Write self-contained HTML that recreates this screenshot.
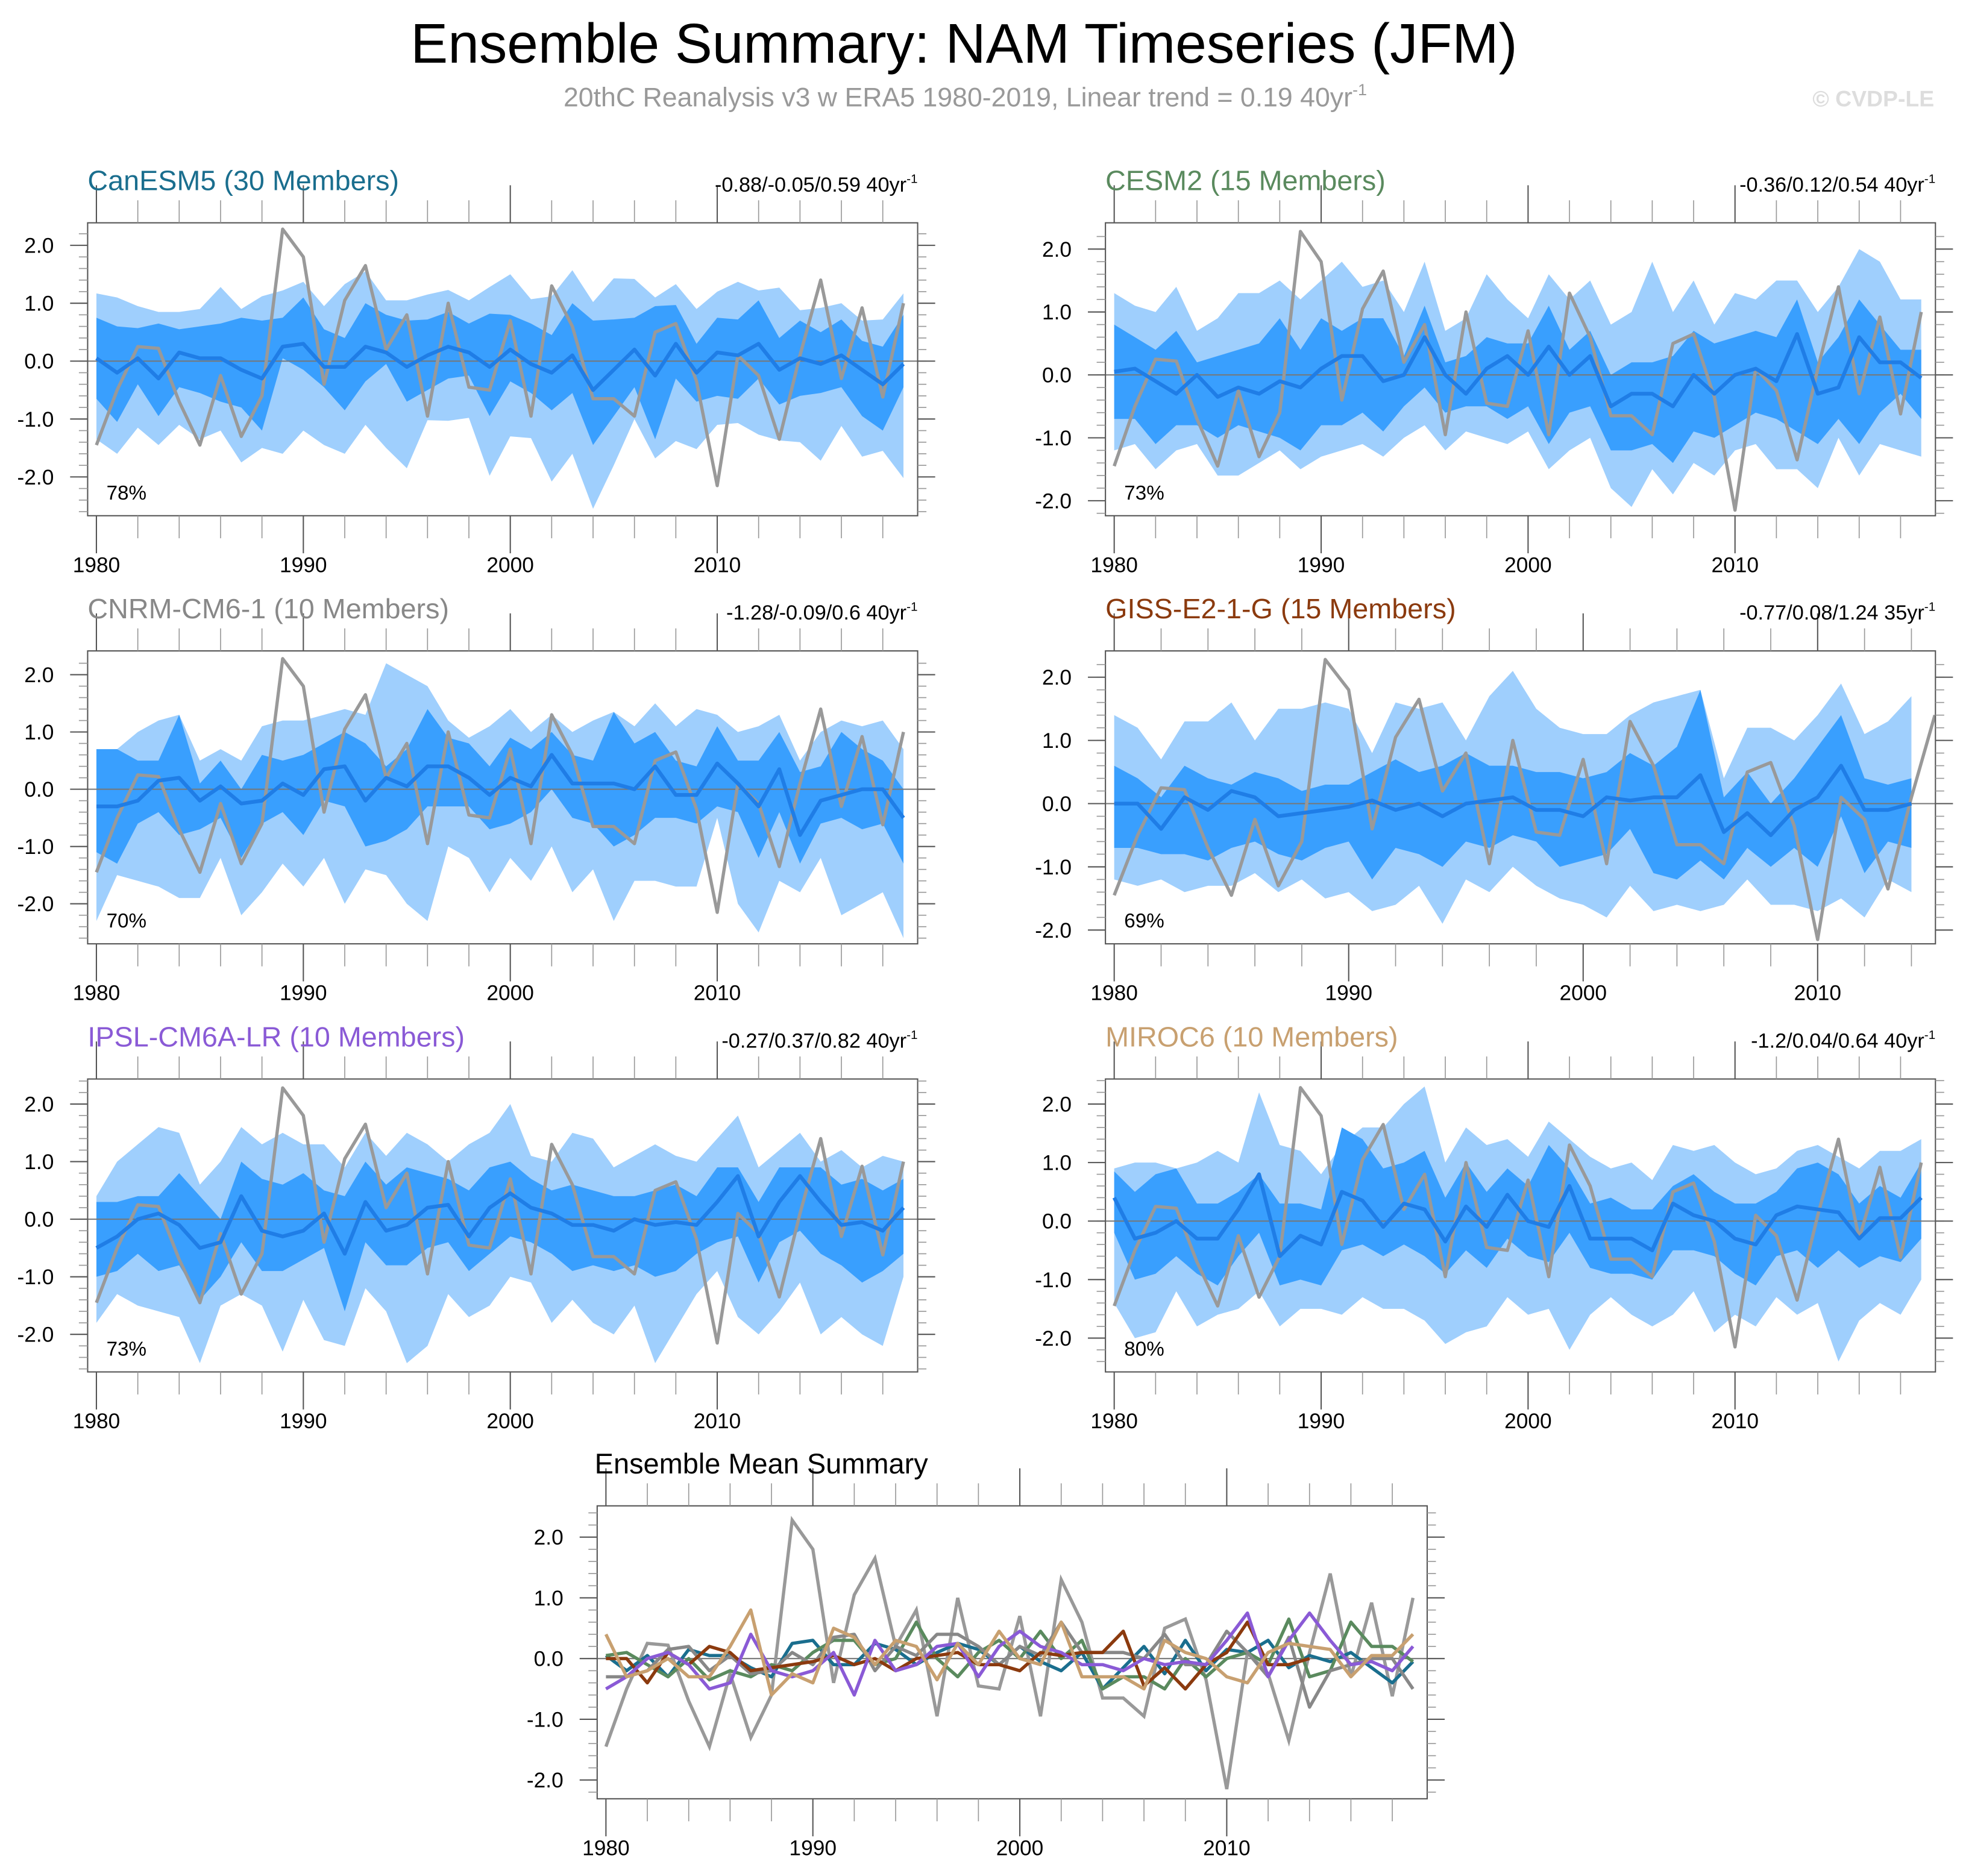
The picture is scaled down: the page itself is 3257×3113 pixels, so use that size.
<!DOCTYPE html>
<html><head><meta charset="utf-8"><style>
html,body{margin:0;padding:0;background:#fff}
svg{display:block}
text{font-family:"Liberation Sans",sans-serif}
</style></head><body>
<svg id="chart" xmlns="http://www.w3.org/2000/svg" width="3257" height="3113" viewBox="0 0 1568 1498.7">
<rect width="1568" height="1498.7" fill="#fff"/>
<text x="770" y="50" font-size="44.7" text-anchor="middle">Ensemble Summary: NAM Timeseries (JFM)</text>
<text x="771" y="85" font-size="21.5" fill="#999" text-anchor="middle">20thC Reanalysis v3 w ERA5 1980-2019, Linear trend = 0.19 40yr<tspan dy="-9" font-size="13">-1</tspan></text>
<text x="1545" y="85" font-size="18" font-weight="bold" fill="#ddd" text-anchor="end">© CVDP-LE</text>
<g id="plots"></g>
</svg>
<script>
const years = Array.from({length:40},(_,i)=>1980+i);
const obs = [-1.45,-0.5,0.25,0.22,-0.7,-1.45,-0.25,-1.3,-0.6,2.28,1.8,-0.4,1.05,1.65,0.2,0.8,-0.95,1.0,-0.45,-0.5,0.7,-0.95,1.3,0.6,-0.65,-0.65,-0.95,0.5,0.65,-0.35,-2.15,0.1,-0.25,-1.35,0.1,1.4,-0.3,0.92,-0.62,1.0];

const canMean=[0.05,-0.2,0.05,-0.3,0.15,0.05,0.05,-0.15,-0.3,0.25,0.3,-0.1,-0.1,0.25,0.15,-0.1,0.1,0.25,0.15,-0.1,0.2,-0.05,-0.2,0.1,-0.5,-0.15,0.2,-0.25,0.3,-0.2,0.15,0.1,0.3,-0.15,0.05,-0.05,0.1,-0.15,-0.4,-0.05];
const canHi=[0.75,0.6,0.57,0.65,0.55,0.6,0.65,0.75,0.7,0.75,1.1,0.55,0.4,1.0,0.8,0.7,0.72,0.85,0.65,0.82,0.8,0.65,0.45,1.0,0.7,0.72,0.75,0.95,0.97,0.3,0.75,0.72,1.05,0.4,0.7,0.5,0.72,0.35,0.25,0.8];
const canLo=[-0.65,-1.05,-0.4,-0.95,-0.45,-0.55,-0.7,-0.8,-1.2,0.05,-0.15,-0.45,-0.85,-0.35,-0.05,-0.7,-0.5,-0.3,-0.25,-0.95,-0.35,-0.55,-0.85,-0.55,-1.45,-0.95,-0.45,-1.35,-0.3,-0.7,-0.6,-0.65,-0.3,-0.75,-0.6,-0.55,-0.45,-0.95,-1.2,-0.45];
const canMax=[1.17,1.1,0.95,0.85,0.85,0.9,1.28,0.9,1.12,1.22,1.37,0.95,1.33,1.55,1.05,1.05,1.15,1.23,1.05,1.28,1.5,1.07,1.12,1.57,1.02,1.43,1.42,1.1,1.33,0.9,1.2,1.37,1.22,1.27,0.88,0.92,1.0,0.7,0.72,1.17];
const canMin=[-1.35,-1.6,-1.15,-1.45,-1.1,-1.35,-1.2,-1.75,-1.5,-1.6,-1.2,-1.45,-1.6,-1.1,-1.5,-1.85,-1.02,-1.03,-0.98,-1.98,-1.3,-1.33,-2.08,-1.6,-2.55,-1.8,-1.0,-1.68,-1.38,-1.52,-1.1,-1.07,-1.27,-1.37,-1.4,-1.72,-1.12,-1.65,-1.55,-2.02];

const cesMean=[0.05,0.1,-0.1,-0.3,0.0,-0.35,-0.2,-0.3,-0.1,-0.2,0.1,0.3,0.3,-0.1,0.0,0.6,0.0,-0.3,0.1,0.3,0.0,0.45,0.0,0.3,-0.5,-0.3,-0.3,-0.5,0.0,-0.3,0.0,0.1,-0.1,0.65,-0.3,-0.2,0.6,0.2,0.2,-0.05];
const cesHi=[0.8,0.6,0.4,0.7,0.2,0.3,0.4,0.5,0.9,0.4,0.9,0.7,0.9,0.9,0.3,1.1,0.2,0.3,0.6,0.5,0.5,1.1,0.4,0.7,0.0,0.2,0.2,0.3,0.7,0.5,0.6,0.7,0.6,1.2,0.2,0.6,1.2,0.8,0.4,0.4];
const cesLo=[-0.7,-0.7,-1.1,-0.8,-0.8,-1.0,-0.8,-0.9,-1.0,-1.2,-0.8,-0.8,-0.6,-0.9,-0.5,-0.2,-0.6,-0.5,-0.5,-0.7,-0.5,-1.1,-0.6,-0.5,-1.2,-1.2,-1.1,-1.4,-0.9,-1.0,-0.8,-0.6,-0.7,-0.9,-1.1,-0.7,-1.1,-0.6,-0.3,-0.7];
const cesMax=[1.3,1.1,1.0,1.4,0.7,0.9,1.3,1.3,1.5,1.2,1.5,1.8,1.4,1.5,1.0,1.8,0.7,0.9,1.6,1.2,0.9,1.6,1.2,1.5,0.8,1.0,1.8,1.0,1.5,0.8,1.3,1.2,1.5,1.5,1.0,1.4,2.0,1.8,1.2,1.2];
const cesMin=[-1.2,-1.1,-1.5,-1.2,-1.1,-1.6,-1.6,-1.4,-1.2,-1.5,-1.3,-1.2,-1.1,-1.3,-1.0,-0.8,-1.2,-0.9,-1.0,-1.1,-0.9,-1.5,-1.2,-1.0,-1.8,-2.1,-1.5,-1.9,-1.4,-1.6,-1.2,-1.1,-1.5,-1.5,-1.8,-1.0,-1.6,-1.1,-1.2,-1.3];

const cnrMean=[-0.3,-0.3,-0.2,0.15,0.2,-0.2,0.05,-0.25,-0.2,0.1,-0.1,0.35,0.4,-0.2,0.2,0.05,0.4,0.4,0.2,-0.1,0.2,0.05,0.6,0.1,0.1,0.1,0.0,0.4,-0.1,-0.1,0.45,0.1,-0.3,0.35,-0.8,-0.2,-0.1,0.0,0.0,-0.5];
const cnrHi=[0.7,0.7,0.5,0.5,1.3,0.1,0.5,0.0,0.6,0.5,0.6,0.8,1.0,0.8,0.4,0.7,1.4,0.9,0.8,0.4,0.9,0.7,1.0,0.6,0.5,1.35,0.8,1.0,0.5,0.4,1.1,0.5,0.5,1.0,0.3,0.4,1.0,0.7,0.5,0.0];
const cnrLo=[-1.1,-1.3,-0.6,-0.4,-0.8,-0.7,-0.5,-1.2,-0.6,-0.4,-0.8,-0.2,-0.3,-1.0,-0.9,-0.7,-0.3,-0.3,-0.3,-0.7,-0.6,-0.4,0.0,-0.5,-0.6,-1.0,-0.8,-0.5,-0.5,-0.6,-0.3,-0.4,-1.2,-0.4,-1.3,-0.6,-0.5,-0.7,-0.6,-1.3];
const cnrMax=[0.65,0.7,1.0,1.2,1.3,0.5,0.7,0.5,1.1,1.2,1.2,1.3,1.4,1.3,2.2,2.0,1.8,1.2,0.9,1.1,1.4,1.0,1.3,1.0,1.2,1.35,1.1,1.5,1.1,1.4,1.3,1.0,1.1,1.3,0.5,1.0,1.2,1.1,1.2,0.7];
const cnrMin=[-2.3,-1.5,-1.6,-1.7,-1.9,-1.9,-1.2,-2.2,-1.8,-1.3,-1.7,-1.2,-2.0,-1.4,-1.5,-2.0,-2.3,-1.0,-1.2,-1.8,-1.2,-1.6,-1.0,-1.8,-1.4,-2.3,-1.6,-1.6,-1.7,-1.7,-0.5,-2.0,-2.5,-1.6,-1.8,-1.2,-2.2,-2.0,-1.8,-2.6];

const gisMean=[0.0,0.0,-0.4,0.1,-0.1,0.2,0.1,-0.2,-0.15,-0.1,-0.05,0.05,-0.1,0.0,-0.2,0.0,0.05,0.1,-0.1,-0.1,-0.2,0.1,0.05,0.1,0.1,0.45,-0.45,-0.15,-0.5,-0.1,0.1,0.6,-0.1,-0.1,0.0];
const gisHi=[0.6,0.4,0.1,0.6,0.4,0.3,0.5,0.4,0.2,0.3,0.3,0.5,0.7,0.5,0.6,0.8,0.6,0.6,0.5,0.5,0.4,0.5,0.8,0.6,0.9,1.8,0.1,0.5,0.0,0.4,0.9,1.4,0.4,0.3,0.4];
const gisLo=[-0.7,-0.7,-0.8,-0.8,-0.9,-0.7,-0.6,-0.8,-0.9,-0.7,-0.6,-1.2,-0.7,-0.8,-1.0,-0.6,-0.7,-0.5,-0.6,-1.0,-0.9,-0.8,-0.4,-1.1,-1.2,-0.9,-1.2,-0.7,-1.0,-0.7,-1.0,-0.2,-1.1,-0.6,-0.7];
const gisMax=[1.4,1.2,0.7,1.3,1.3,1.6,1.0,1.5,1.5,1.6,1.5,0.8,1.6,1.5,1.6,1.0,1.7,2.1,1.5,1.2,1.1,1.1,1.4,1.6,1.7,1.8,0.4,1.2,1.2,1.0,1.4,1.9,1.1,1.3,1.7];
const gisMin=[-1.2,-1.3,-1.2,-1.4,-1.3,-1.3,-1.1,-1.4,-1.2,-1.5,-1.4,-1.7,-1.6,-1.3,-1.9,-1.2,-1.4,-1.0,-1.3,-1.5,-1.6,-1.8,-1.3,-1.7,-1.6,-1.7,-1.6,-1.2,-1.6,-1.6,-1.7,-1.5,-1.8,-1.2,-1.4];

const ipsMean=[-0.5,-0.3,0.0,0.1,-0.1,-0.5,-0.4,0.4,-0.2,-0.3,-0.2,0.1,-0.6,0.3,-0.2,-0.1,0.2,0.25,-0.3,0.2,0.45,0.2,0.1,-0.1,-0.1,-0.2,0.0,-0.1,-0.05,-0.1,0.3,0.75,-0.3,0.3,0.75,0.3,-0.1,-0.05,-0.2,0.2];
const ipsHi=[0.3,0.3,0.4,0.4,0.8,0.4,0.0,1.0,0.7,0.6,0.8,0.5,0.4,1.0,0.6,0.9,0.8,0.7,0.5,0.9,1.0,0.7,0.5,0.6,0.5,0.4,0.4,0.5,0.6,0.4,0.9,0.9,0.3,0.9,0.9,0.9,0.6,0.7,0.5,0.7];
const ipsLo=[-1.0,-0.9,-0.6,-0.9,-0.8,-1.4,-1.0,-0.4,-0.9,-0.9,-0.7,-0.5,-1.6,-0.4,-0.8,-0.8,-0.5,-0.4,-0.9,-0.6,-0.3,-0.4,-0.6,-0.9,-0.8,-0.9,-0.8,-1.0,-0.9,-0.6,-0.4,-0.3,-1.1,-0.4,-0.2,-0.6,-0.8,-1.1,-0.9,-0.6];
const ipsMax=[0.4,1.0,1.3,1.6,1.5,0.6,1.0,1.6,1.3,1.5,1.3,1.3,0.9,1.5,1.1,1.5,1.3,1.0,1.3,1.5,2.0,1.1,1.0,1.5,1.4,0.9,1.1,1.3,1.1,1.0,1.4,1.8,0.9,1.2,1.5,1.0,1.2,0.9,1.1,1.0];
const ipsMin=[-1.8,-1.3,-1.5,-1.6,-1.7,-2.5,-1.5,-1.3,-1.5,-2.3,-1.4,-2.1,-2.2,-1.2,-1.6,-2.5,-2.2,-1.3,-1.7,-1.5,-1.0,-1.1,-1.8,-1.4,-1.8,-2.0,-1.5,-2.5,-1.9,-1.3,-0.9,-1.7,-2.0,-1.6,-1.1,-2.0,-1.7,-2.0,-2.2,-1.0];

const mirMean=[0.4,-0.3,-0.2,0.0,-0.3,-0.3,0.2,0.8,-0.6,-0.25,-0.4,0.5,0.35,-0.1,0.3,0.2,-0.35,0.25,-0.1,0.45,0.0,-0.1,0.6,-0.3,-0.3,-0.3,-0.5,0.3,0.1,0.0,-0.3,-0.4,0.1,0.25,0.2,0.15,-0.3,0.05,0.05,0.4];
const mirHi=[0.85,0.5,0.8,0.9,0.3,0.3,0.5,0.8,0.3,0.3,0.2,1.6,1.4,0.9,1.0,1.2,0.4,1.0,0.5,0.9,0.6,1.3,0.9,0.3,0.4,0.2,0.2,0.6,0.8,0.5,0.3,0.3,0.5,0.9,1.0,0.8,0.3,0.6,0.4,1.0];
const mirLo=[-0.2,-1.0,-0.9,-0.6,-0.9,-1.1,-0.6,-0.2,-1.1,-1.0,-1.1,-0.5,-0.4,-0.6,-0.4,-0.6,-0.9,-0.5,-0.8,-0.3,-0.6,-0.7,-0.2,-0.8,-0.9,-0.9,-1.0,-0.5,-0.5,-0.6,-0.9,-1.1,-0.6,-0.5,-0.8,-0.5,-0.8,-0.6,-0.7,-0.3];
const mirMax=[0.9,1.0,1.0,0.9,1.0,1.2,1.0,2.2,1.3,1.2,0.8,1.3,1.6,1.6,2.0,2.3,1.0,1.6,1.3,1.4,1.1,1.7,1.4,1.1,0.9,1.0,0.7,1.3,1.2,1.3,1.0,0.8,0.9,1.2,1.3,1.1,0.9,1.2,1.2,1.4];
const mirMin=[-1.4,-2.0,-1.9,-1.2,-1.8,-1.6,-1.5,-1.2,-1.8,-1.5,-1.5,-1.6,-1.3,-1.5,-1.5,-1.7,-2.1,-1.9,-1.8,-1.3,-1.6,-1.5,-2.2,-1.6,-1.3,-1.6,-1.8,-1.6,-1.2,-1.9,-1.6,-1.8,-1.3,-1.6,-1.4,-2.4,-1.7,-1.4,-1.6,-1.0];

const yTickVals=[-2,-1,0,1,2];
const yTickLabels=["-2.0","-1.0","0.0","1.0","2.0"];
const xTickYears=[1980,1990,2000,2010];

const panels=[
 {key:"canesm5",title:"CanESM5 (30 Members)",color:"#1a6e8e",trend:"-0.88/-0.05/0.59 40yr",pct:"78%",x0:70,x1:733,y0:178,y1:412,zeroY:288.5,ppu:46.25,yr0:77,ppy:16.53,n:40,mean:canMean,hi:canHi,lo:canLo,max:canMax,min:canMin},
 {key:"cesm2",title:"CESM2 (15 Members)",color:"#5a8a5e",trend:"-0.36/0.12/0.54 40yr",pct:"73%",x0:883,x1:1546,y0:178,y1:412,zeroY:299.5,ppu:50.25,yr0:890,ppy:16.53,n:40,mean:cesMean,hi:cesHi,lo:cesLo,max:cesMax,min:cesMin},
 {key:"cnrm",title:"CNRM-CM6-1 (10 Members)",color:"#888888",trend:"-1.28/-0.09/0.6 40yr",pct:"70%",x0:70,x1:733,y0:520,y1:754,zeroY:630.5,ppu:45.75,yr0:77,ppy:16.53,n:40,mean:cnrMean,hi:cnrHi,lo:cnrLo,max:cnrMax,min:cnrMin},
 {key:"giss",title:"GISS-E2-1-G (15 Members)",color:"#8b3a0e",trend:"-0.77/0.08/1.24 35yr",pct:"69%",x0:883,x1:1546,y0:520,y1:754,zeroY:642,ppu:50.5,yr0:890,ppy:18.73,n:35,mean:gisMean,hi:gisHi,lo:gisLo,max:gisMax,min:gisMin},
 {key:"ipsl",title:"IPSL-CM6A-LR (10 Members)",color:"#8a5ad6",trend:"-0.27/0.37/0.82 40yr",pct:"73%",x0:70,x1:733,y0:862,y1:1096,zeroY:974,ppu:46,yr0:77,ppy:16.53,n:40,mean:ipsMean,hi:ipsHi,lo:ipsLo,max:ipsMax,min:ipsMin},
 {key:"miroc6",title:"MIROC6 (10 Members)",color:"#c8a070",trend:"-1.2/0.04/0.64 40yr",pct:"80%",x0:883,x1:1546,y0:862,y1:1096,zeroY:975.5,ppu:46.75,yr0:890,ppy:16.53,n:40,mean:mirMean,hi:mirHi,lo:mirLo,max:mirMax,min:mirMin}
];
const NS="http://www.w3.org/2000/svg";
const root=document.getElementById("plots");
function mk(tag,attrs,parent){const e=document.createElementNS(NS,tag);for(const k in attrs)e.setAttribute(k,attrs[k]);(parent||root).appendChild(e);return e;}
function pts(xf,yf,arr,n){let s=[];for(let i=0;i<n;i++)s.push(xf(years[i]).toFixed(2)+","+yf(arr[i]).toFixed(2));return s;}

function axes(g,p,xf,yf,lastYear){
  const gr="#555";
  for(let v=-3;v<=3.001;v+=0.2){const y=yf(v);if(y<p.y0+1||y>p.y1-1)continue;
    mk("line",{x1:p.x0-7,x2:p.x0,y1:y,y2:y,stroke:"#999","stroke-width":0.8},g);
    mk("line",{x1:p.x1,x2:p.x1+7,y1:y,y2:y,stroke:"#999","stroke-width":0.8},g);}
  yTickVals.forEach((v,i)=>{const y=yf(v);
    mk("line",{x1:p.x0-14,x2:p.x0,y1:y,y2:y,stroke:gr,"stroke-width":1},g);
    mk("line",{x1:p.x1,x2:p.x1+14,y1:y,y2:y,stroke:gr,"stroke-width":1},g);
    const t=mk("text",{x:p.x0-27,y:y+6,"font-size":17,"text-anchor":"end"},g);t.textContent=yTickLabels[i];
    
    });
  for(let yr=1980;yr<=lastYear;yr+=2){const x=xf(yr);const major=(yr%10===0);
    const L=major?30:18;
    mk("line",{x1:x,x2:x,y1:p.y0-L,y2:p.y0,stroke:major?gr:"#999","stroke-width":major?1:0.8},g);
    mk("line",{x1:x,x2:x,y1:p.y1,y2:p.y1+L,stroke:major?gr:"#999","stroke-width":major?1:0.8},g);}
  xTickYears.forEach(yr=>{const t=mk("text",{x:xf(yr),y:p.y1+45,"font-size":17,"text-anchor":"middle"},g);t.textContent=yr;
    
    });
}

panels.forEach(p=>{
  const g=mk("g",{});
  
  
  const xf=y=>p.yr0+(y-1980)*p.ppy;
  const yf=v=>p.zeroY-v*p.ppu;
  const cp=mk("clipPath",{id:"clip-"+p.key},g);mk("rect",{x:p.x0,y:p.y0,width:p.x1-p.x0,height:p.y1-p.y0},cp);
  const body=mk("g",{"clip-path":"url(#clip-"+p.key+")"},g);
  const up=pts(xf,yf,p.max,p.n), dn=pts(xf,yf,p.min,p.n).reverse();
  const light=mk("polygon",{points:up.concat(dn).join(" "),fill:"#9fcffd"},body);
  
  
  const up2=pts(xf,yf,p.hi,p.n), dn2=pts(xf,yf,p.lo,p.n).reverse();
  const dark=mk("polygon",{points:up2.concat(dn2).join(" "),fill:"#399ffe"},body);
  
  
  mk("line",{x1:p.x0,x2:p.x1,y1:yf(0),y2:yf(0),stroke:"#777","stroke-width":1},body);
  const ob=mk("polyline",{points:pts(xf,yf,obs,p.key==="giss"?36:40).join(" "),fill:"none",stroke:"#999","stroke-width":2.6,"stroke-linejoin":"round"},body);
  
  
  const ml=mk("polyline",{points:pts(xf,yf,p.mean,p.n).join(" "),fill:"none",stroke:"#1f7de6","stroke-width":3,"stroke-linejoin":"round"},body);
  
  
  mk("rect",{x:p.x0,y:p.y0,width:p.x1-p.x0,height:p.y1-p.y0,fill:"none",stroke:"#555","stroke-width":1},g);
  axes(g,p,xf,yf,p.key==="giss"?2014:2018);
  const t=mk("text",{x:p.x0,y:p.y0-26,"font-size":22.5,fill:p.color},g);t.textContent=p.title;
  
  
  const tr=mk("text",{x:p.x1,y:p.y0-25,"font-size":16.5,"text-anchor":"end"},g);tr.textContent=p.trend;
  const sup=mk("tspan",{dy:-7,"font-size":10},tr);sup.textContent="-1";
  
  
  const pc=mk("text",{x:p.x0+15,y:p.y1-13,"font-size":16},g);pc.textContent=p.pct;
  
  
});

(function(){
  const p={key:"summary",x0:477,x1:1140,y0:1203,y1:1437,zeroY:1325,ppu:48.5,yr0:484,ppy:16.53};
  const g=mk("g",{});
  
  
  const xf=y=>p.yr0+(y-1980)*p.ppy;
  const yf=v=>p.zeroY-v*p.ppu;
  const cp=mk("clipPath",{id:"clip-sum"},g);mk("rect",{x:p.x0,y:p.y0,width:p.x1-p.x0,height:p.y1-p.y0},cp);
  const body=mk("g",{"clip-path":"url(#clip-sum)"},g);
  mk("line",{x1:p.x0,x2:p.x1,y1:yf(0),y2:yf(0),stroke:"#777","stroke-width":1},body);
  const ob=mk("polyline",{points:pts(xf,yf,obs,40).join(" "),fill:"none",stroke:"#999","stroke-width":2.6},body);
  
  
  panels.forEach(q=>{
    const l=mk("polyline",{points:pts(xf,yf,q.mean,q.n).join(" "),fill:"none",stroke:q.color,"stroke-width":2.6,"stroke-linejoin":"round"},body);
    
    
  });
  mk("rect",{x:p.x0,y:p.y0,width:p.x1-p.x0,height:p.y1-p.y0,fill:"none",stroke:"#555","stroke-width":1},g);
  axes(g,p,xf,yf,2018);
  const t=mk("text",{x:475,y:1177,"font-size":22.6},g);t.textContent="Ensemble Mean Summary";
  
  
})();
</script>
</body></html>
